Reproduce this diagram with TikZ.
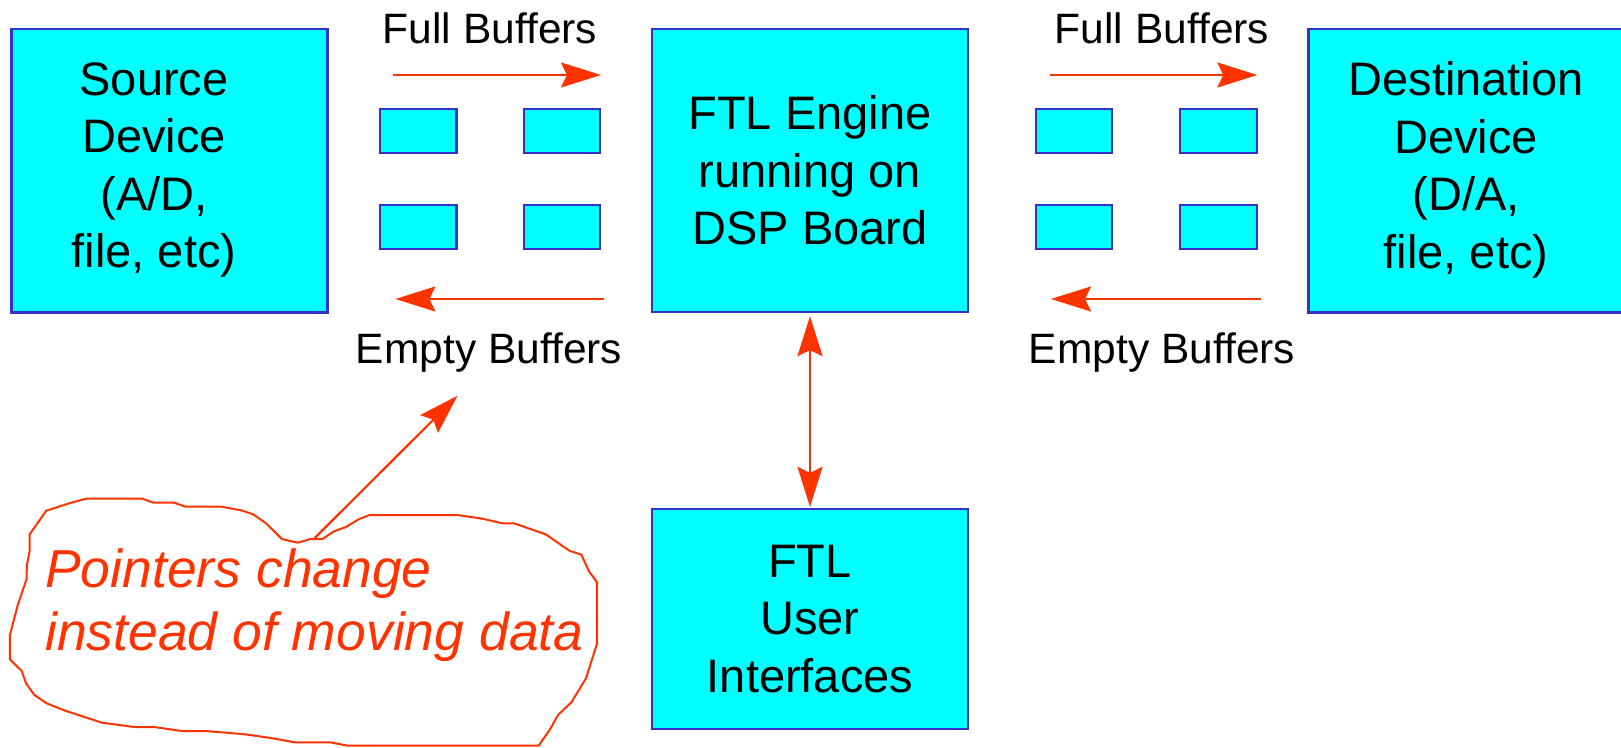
\documentclass[tikz,border=0pt]{standalone}
\usepackage{fontspec}
\setmainfont{Liberation Sans}
\usetikzlibrary{arrows.meta}
\definecolor{boxfill}{RGB}{0,255,255}
\definecolor{boxline}{RGB}{51,51,204}
\definecolor{ptr}{RGB}{255,51,0}
\tikzset{
  bigbox/.style={draw=boxline, fill=boxfill, line width=2.3pt, inner sep=0pt, align=center, font=\fontsize{47}{57.5}\selectfont},
  bigtext/.style={inner sep=0pt, align=center, font=\fontsize{47}{57.5}\selectfont},
  buf/.style={draw=boxline, fill=boxfill, line width=2.3pt, inner sep=0pt, minimum width=76.5pt, minimum height=44.4pt},
  lbl/.style={font=\fontsize{42.5}{50}\selectfont, inner sep=0pt, anchor=base},
  note/.style={font=\fontsize{53.5}{63}\selectfont\itshape, text=ptr, inner sep=0pt, anchor=base west},
  flow/.style={draw=ptr, line width=2.2pt, -{Stealth[length=40pt,width=25pt,inset=6pt]}},
  flowboth/.style={draw=ptr, line width=2.2pt, {Stealth[length=40pt,width=25pt,inset=6pt]}-{Stealth[length=40pt,width=25pt,inset=6pt]}},
  cloudline/.style={draw=ptr, line width=2pt, line join=round},
}
\begin{document}
\begin{tikzpicture}[x=1pt,y=-1pt]
\useasboundingbox (0,0) rectangle (1621,747);

% main boxes
\node[bigbox, minimum width=316pt, minimum height=283.5pt] (src) at (169.5,170.75) {};
\node[bigtext] (srctext) at (154,170) {Source\\Device\\(A/D,\\file, etc)};
\node[bigbox, minimum width=316pt, minimum height=283pt] (eng) at (810,170.5) {FTL Engine\\running on\\DSP Board};
\node[bigbox, minimum width=351.5pt, minimum height=283.5pt] (dst) at (1484.25,170.75) {};
\node[bigtext] (dsttext) at (1466,170) {Destination\\Device\\(D/A,\\file, etc)};
\node[bigbox, minimum width=316pt, minimum height=220pt] (ui) at (810,619) {FTL\\User\\Interfaces};

% buffers left
\node[buf] (bl1) at (418.2,131) {};
\node[buf] (bl2) at (561.9,131) {};
\node[buf] (bl3) at (418.2,226.9) {};
\node[buf] (bl4) at (561.9,226.9) {};
% buffers right
\node[buf] (br1) at (1074,131) {};
\node[buf] (br2) at (1218.4,131) {};
\node[buf] (br3) at (1074,226.9) {};
\node[buf] (br4) at (1218.4,226.9) {};

% labels
\node[lbl] (fbl) at (490,43.3) {Full Buffers};
\node[lbl] (ebl) at (489,363.3) {Empty Buffers};
\node[lbl] (fbr) at (1162,43.3) {Full Buffers};
\node[lbl] (ebr) at (1162,363.3) {Empty Buffers};

% flow arrows
\coordinate (lta) at (393.4,75);
\coordinate (ltb) at (601,75);
\coordinate (lba) at (603.8,299);
\coordinate (lbb) at (395.4,299);
\coordinate (rta) at (1049.8,75);
\coordinate (rtb) at (1257.3,75);
\coordinate (rba) at (1260.5,299);
\coordinate (rbb) at (1051,299);
\draw[flow] (lta) -- (ltb);
\draw[flow] (lba) -- (lbb);
\draw[flow] (rta) -- (rtb);
\draw[flow] (rba) -- (rbb);

\draw[flowboth, shorten <=3pt, shorten >=1pt] (eng.south) -- (ui.north);

% cloud
\draw[cloudline] (46.3,510.7) -- (69.2,503.3) -- (85.8,498.7) -- (142.3,498.7) -- (153.4,502.7) -- (174,502.7) -- (185.8,506.7) -- (221.4,506.7) -- (241.2,510.3) -- (253.1,514.3) -- (266.1,523.3) -- (281.9,539) -- (297.7,542.7) -- (310.4,539) -- (322.3,539) -- (334.1,531.3) -- (346,527) -- (358.6,519.3) -- (369.7,515) -- (457.5,515) -- (482.4,518.7) -- (502.2,523.3) -- (514,523.3) -- (545.7,534.3) -- (569.4,550.7) -- (581.3,554.7) -- (589.2,571.7) -- (597.1,582.3) -- (597.1,643.3) -- (586,678.3) -- (571.4,702.3) -- (558.3,714.7) -- (549.6,730) -- (538.6,745.7) -- (348,745.7) -- (330.2,742.3) -- (294.6,742.3) -- (272.8,738.3) -- (245.2,734.3) -- (205.6,731) -- (181.9,731) -- (154.2,727) -- (134.4,727) -- (102,722.7) -- (65.2,710.7) -- (46.7,703.3) -- (34.4,695) -- (26.1,683.3) -- (21.7,671) -- (9.9,659.3) -- (9.9,635) -- (17.8,605) -- (26.5,579.3) -- (26.9,565) -- (29.7,551) -- (29.7,534.3) -- cycle;

\node[note] (n1) at (45,587.5) {Pointers change};
\node[note] (n2) at (45,650.5) {instead of moving data};

\coordinate (ptrstart) at (314.4,538.3);
\coordinate (ptrend) at (457.5,395.7);
\draw[flow] (ptrstart) -- (ptrend);
\end{tikzpicture}
\end{document}
